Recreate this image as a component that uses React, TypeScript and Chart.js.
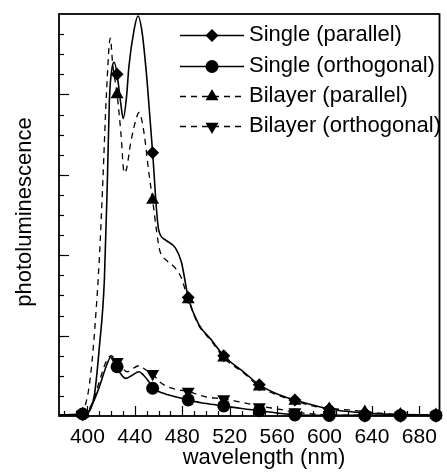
import React, { useEffect, useRef } from "react";
import { Chart, registerables } from "chart.js";

Chart.register(...registerables);

// ---- axis ranges / ticks ----
const X_MIN = 376;
const X_MAX = 697;
const X_TICKS = [400, 440, 480, 520, 560, 600, 640, 680];
const X_MINOR_START = 380;
const X_MINOR_END = 690;
const X_MINOR_STEP = 10;
const X_MAJOR_STEP = 40;
const Y_MIN = 0;
const Y_MAX = 20;
const Y_MINOR_STEP = 1;
const Y_MAJOR_STEP = 4;

// ---- smooth spectra ----
const SP_X = [376, 396, 400, 403, 406, 410, 414.3, 416.8, 418.5, 421, 422.6, 425, 428, 430.2, 433, 435, 439.3, 442.6, 446.2, 450.4, 455, 458.5, 460.1, 466, 474.3, 479.3, 485, 493.5, 504.3, 515, 532.6, 545, 560, 575, 590, 604, 620, 634, 650, 664, 680, 697];
const SP_Y = [0.05, 0.1, 0.15, 0.4, 1.1, 3.4, 6.8, 11.7, 15.7, 17.4, 17.6, 17.0, 15.6, 14.8, 15.9, 17.4, 19.2, 19.9, 19.05, 16.6, 13.1, 10.1, 9.25, 8.75, 8.35, 7.65, 5.9, 4.6, 3.8, 3.0, 2.15, 1.55, 1.1, 0.8, 0.55, 0.35, 0.22, 0.15, 0.1, 0.08, 0.06, 0.05];

const SO_X = [376, 396, 400, 405, 410, 415.7, 419.9, 422, 425, 428, 432.4, 437, 443.5, 447, 451.8, 455, 460, 465.7, 479.5, 485, 500, 515, 530, 545, 560, 575, 604, 697];
const SO_Y = [0.05, 0.1, 0.15, 0.7, 1.45, 2.45, 2.95, 2.8, 2.45, 2.1, 1.87, 2.0, 2.2, 2.05, 1.7, 1.4, 1.22, 1.1, 0.88, 0.8, 0.62, 0.5, 0.37, 0.26, 0.15, 0.06, 0.03, 0.03];

const BP_X = [376, 396, 398, 401, 404, 407, 410, 413, 416, 419.3, 421.3, 425, 428.2, 431, 433, 436.5, 440.7, 443.5, 447.7, 451.8, 455, 458.2, 460.9, 466.4, 473.5, 479, 485, 493.5, 504.3, 515, 532.6, 545, 560, 575, 590, 604, 620, 634, 650, 664, 680, 697];
const BP_Y = [0.05, 0.1, 0.5, 1.3, 2.8, 5.0, 7.8, 11.7, 16.0, 18.8, 17.5, 16.0, 14.1, 12.1, 12.3, 13.6, 14.7, 15.1, 14.1, 12.1, 10.75, 9.25, 8.26, 7.76, 7.4, 6.9, 5.8, 4.55, 3.75, 2.9, 2.1, 1.45, 1.05, 0.75, 0.5, 0.38, 0.3, 0.22, 0.12, 0.08, 0.06, 0.05];

const BO_X = [376, 396, 400, 405, 410, 415, 419.9, 425, 430, 433.5, 438, 443.5, 449, 455, 460, 466, 477, 485, 499, 515, 530, 545, 560, 575, 590, 604, 634, 697];
const BO_Y = [0.05, 0.1, 0.2, 0.8, 1.7, 2.6, 3.0, 2.7, 2.35, 2.2, 2.35, 2.5, 2.3, 2.1, 1.75, 1.5, 1.3, 1.22, 0.96, 0.85, 0.68, 0.5, 0.35, 0.2, 0.1, 0.06, 0.04, 0.03];

// ---- marker positions ----
const MARK_X = [396, 425, 455, 485, 515, 545, 575, 604, 634, 664, 694];
const SP_MARK = [0.1, 17.0, 13.1, 5.9, 3.0, 1.55, 0.8, 0.35, 0.15, 0.08, 0.05];
const SO_MARK = [0.1, 2.45, 1.38, 0.8, 0.5, 0.26, 0.05, 0.03, 0.03, 0.03, 0.03];
const BP_MARK = [0.1, 16.0, 10.75, 5.8, 2.9, 1.45, 0.75, 0.35, 0.2, 0.08, 0.05];
const BO_MARK = [0.1, 2.7, 2.1, 1.22, 0.85, 0.45, 0.2, 0.06, 0.04, 0.03, 0.03];

const SERIES_LABELS = ["Single (parallel)", "Single (orthogonal)", "Bilayer (parallel)", "Bilayer (orthogonal)"];
const X_TITLE = "wavelength (nm)";
const Y_TITLE = "photoluminescence";

const FONT = "'Liberation Sans', Arial, Helvetica, sans-serif";
const INK = "#000";
const DASH = [6, 5];

const pairs = (xs: number[], ys: number[]) => xs.map((x, i) => ({ x, y: ys[i] }));

type MarkStyle = "diamond" | "circle" | "up" | "down";

function drawMark(ctx: CanvasRenderingContext2D, kind: MarkStyle, cx: number, cy: number) {
  ctx.beginPath();
  if (kind === "circle") {
    ctx.arc(cx, cy, 6.5, 0, Math.PI * 2);
  } else if (kind === "diamond") {
    const r = 6.5;
    ctx.moveTo(cx, cy - r);
    ctx.lineTo(cx + r, cy);
    ctx.lineTo(cx, cy + r);
    ctx.lineTo(cx - r, cy);
    ctx.closePath();
  } else {
    const r = 7.5;
    const s = kind === "up" ? 1 : -1;
    ctx.moveTo(cx, cy - s * r);
    ctx.lineTo(cx + r * 0.866, cy + s * r * 0.5);
    ctx.lineTo(cx - r * 0.866, cy + s * r * 0.5);
    ctx.closePath();
  }
  ctx.fillStyle = INK;
  ctx.fill();
}

const decorPlugin = {
  id: "decor",
  afterDraw(chart: any) {
    const { ctx, chartArea: a, scales } = chart;
    const xs = scales.x;
    const ys = scales.y;
    ctx.save();
    ctx.strokeStyle = INK;
    ctx.fillStyle = INK;
    // frame
    ctx.lineWidth = 1.8;
    ctx.strokeRect(a.left, a.top, a.right - a.left, a.bottom - a.top);
    // y ticks (inward)
    ctx.lineWidth = 1.2;
    for (let v = Y_MIN + Y_MINOR_STEP; v < Y_MAX; v += Y_MINOR_STEP) {
      const py = Math.round(ys.getPixelForValue(v)) + 0.5;
      const len = v % Y_MAJOR_STEP === 0 ? 10 : 5;
      ctx.beginPath();
      ctx.moveTo(a.left, py);
      ctx.lineTo(a.left + len, py);
      ctx.stroke();
    }
    // x ticks (inward)
    for (let v = X_MINOR_START; v <= X_MINOR_END; v += X_MINOR_STEP) {
      const px = Math.round(xs.getPixelForValue(v)) + 0.5;
      const len = v % X_MAJOR_STEP === 0 ? 10 : 5;
      ctx.beginPath();
      ctx.moveTo(px, a.bottom);
      ctx.lineTo(px, a.bottom - len);
      ctx.stroke();
    }
    // axis titles
    ctx.font = `22px ${FONT}`;
    ctx.textAlign = "center";
    ctx.textBaseline = "middle";
    ctx.fillText(X_TITLE, 264, 458);
    ctx.save();
    ctx.translate(25, 212);
    ctx.rotate(-Math.PI / 2);
    ctx.fillText(Y_TITLE, 0, 0);
    ctx.restore();
    // legend
    const rows: { dash: number[]; mark: MarkStyle; y: number }[] = [
      { dash: [], mark: "diamond", y: 35 },
      { dash: [], mark: "circle", y: 66 },
      { dash: DASH, mark: "up", y: 96 },
      { dash: DASH, mark: "down", y: 126 },
    ];
    rows.forEach((r, i) => {
      ctx.lineWidth = 1.4;
      ctx.setLineDash(r.dash);
      ctx.beginPath();
      ctx.moveTo(180, r.y + 0.5);
      ctx.lineTo(244, r.y + 0.5);
      ctx.stroke();
      ctx.setLineDash([]);
      drawMark(ctx, r.mark, 212, r.y + 0.5);
      ctx.textAlign = "left";
      ctx.textBaseline = "middle";
      ctx.fillStyle = INK;
      ctx.fillText(SERIES_LABELS[i], 249, r.y);
    });
    ctx.restore();
  },
};

export default function App() {
  const ref = useRef<HTMLCanvasElement | null>(null);
  useEffect(() => {
    document.body.style.margin = "0";
    const canvas = ref.current;
    if (!canvas) return;
    const line = (xs: number[], ys: number[], dashed: boolean) => ({
      data: pairs(xs, ys),
      borderColor: INK,
      borderWidth: dashed ? 1.3 : 1.6,
      borderDash: dashed ? DASH : [],
      pointRadius: 0,
      fill: false,
      cubicInterpolationMode: "monotone",
    });
    const marks = (ys: number[], style: string, radius: number, rot: number) => ({
      data: pairs(MARK_X, ys),
      showLine: false,
      pointStyle: style,
      pointRadius: radius,
      pointRotation: rot,
      pointBackgroundColor: INK,
      pointBorderColor: INK,
      pointBorderWidth: 0,
      clip: false,
    });
    const chart = new Chart(canvas, {
      type: "line",
      data: {
        datasets: [
          line(SP_X, SP_Y, false),
          line(SO_X, SO_Y, false),
          line(BP_X, BP_Y, true),
          line(BO_X, BO_Y, true),
          marks(SP_MARK, "rectRot", 6.5, 0),
          marks(SO_MARK, "circle", 6.5, 0),
          marks(BP_MARK, "triangle", 7.5, 0),
          marks(BO_MARK, "triangle", 7.5, 180),
        ] as any,
      },
      options: {
        responsive: false,
        animation: false,
        devicePixelRatio: 1,
        layout: { padding: { top: 14, right: 3, left: 0, bottom: 0 } },
        plugins: { legend: { display: false }, tooltip: { enabled: false } },
        events: [],
        scales: {
          x: {
            type: "linear",
            min: X_MIN,
            max: X_MAX,
            grid: { display: false, drawTicks: false },
            border: { display: false },
            afterBuildTicks: (s: any) => {
              s.ticks = X_TICKS.map((v) => ({ value: v }));
            },
            afterFit: (s: any) => {
              s.height = 56;
            },
            ticks: {
              autoSkip: false,
              maxRotation: 0,
              padding: 9,
              color: INK,
              font: { family: FONT, size: 21, lineHeight: 1.2 },
            },
          },
          y: {
            type: "linear",
            min: Y_MIN,
            max: Y_MAX,
            grid: { display: false, drawTicks: false },
            border: { display: false },
            ticks: { display: false },
            afterFit: (s: any) => {
              s.width = 59;
            },
          },
        },
      } as any,
      plugins: [decorPlugin],
    });
    return () => chart.destroy();
  }, []);
  return (
    <div style={{ width: 447, height: 472, background: "#fff" }}>
      <canvas ref={ref} width={447} height={472} style={{ display: "block" }} />
    </div>
  );
}
